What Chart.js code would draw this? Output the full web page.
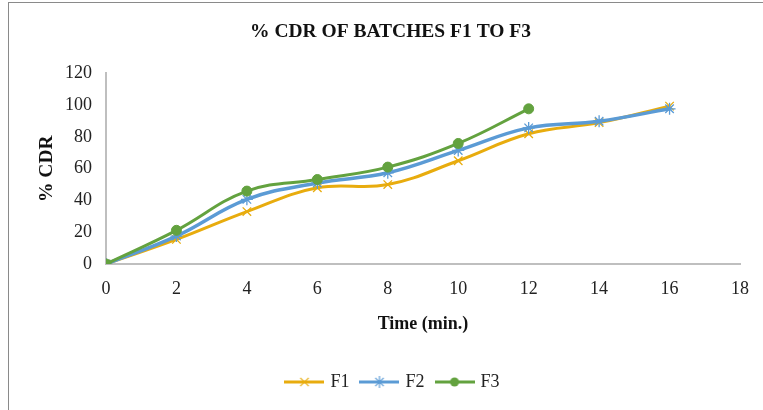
<!DOCTYPE html>
<html>
<head>
<meta charset="utf-8">
<script src="https://cdn.jsdelivr.net/npm/chart.js@4.4.1/dist/chart.umd.min.js"></script>
<style>
  html, body { margin: 0; padding: 0; background: #fff; }
  #wrap { position: relative; width: 763px; height: 410px; overflow: hidden; }
  #frame { position: absolute; left: 8px; top: 2px; width: 900px; height: 600px;
           border-top: 1.5px solid #8a8a8a; border-left: 1.5px solid #8a8a8a; pointer-events: none; }
  canvas { position: absolute; left: 0; top: 0; }
</style>
</head>
<body>
<div id="wrap">
  <canvas id="c" width="763" height="410"></canvas>
  <div id="frame"></div>
</div>
<script>
const titleText = "% CDR OF BATCHES F1 TO F3";
const xTitle = "Time (min.)";
const yTitle = "% CDR";
const timeF1 = [0, 2, 4, 6, 8, 10, 12, 14, 16];
const timeF2 = [0, 2, 4, 6, 8, 10, 12, 14, 16];
const timeF3 = [0, 2, 4, 6, 8, 10, 12];
const cdrF1 = [0, 15.5, 33, 48, 50, 65, 82, 89, 99.4];
const cdrF2 = [0, 17.6, 40.7, 51, 57.4, 71.5, 85.7, 89.9, 97.7];
const cdrF3 = [0, 21.2, 45.9, 53.2, 61, 75.9, 97.7];
const seriesNames = ["F1", "F2", "F3"];
const xMin = 0, xMax = 18, xStep = 2;
const yMin = 0, yMax = 120, yStep = 20;

const colors = ["#E8AC0E", "#5B9BD5", "#63A23F"];
const pointStyles = ["crossRot", "star", "circle"];
const SERIF = "'Liberation Serif', 'Times New Roman', serif";

function toPts(xs, ys) { return xs.map((x, i) => ({ x: x, y: ys[i] })); }

function legendIcon(color, style) {
  const cv = document.createElement('canvas');
  cv.width = 40; cv.height = 14;
  const g = cv.getContext('2d');
  g.strokeStyle = color; g.lineWidth = 3;
  g.beginPath(); g.moveTo(0, 7); g.lineTo(40, 7); g.stroke();
  g.lineWidth = 1.2;
  if (style === 'circle') {
    g.fillStyle = color; g.beginPath(); g.arc(20, 7, 4.5, 0, Math.PI * 2); g.fill();
  } else {
    const r = 6;
    g.beginPath();
    g.moveTo(20 - r * 0.7, 7 - r * 0.7); g.lineTo(20 + r * 0.7, 7 + r * 0.7);
    g.moveTo(20 + r * 0.7, 7 - r * 0.7); g.lineTo(20 - r * 0.7, 7 + r * 0.7);
    if (style === 'star') { g.moveTo(20, 7 - r); g.lineTo(20, 7 + r); }
    g.stroke();
  }
  return cv;
}

const dsData = [toPts(timeF1, cdrF1), toPts(timeF2, cdrF2), toPts(timeF3, cdrF3)];
const datasets = seriesNames.map((n, i) => ({
  label: n,
  data: dsData[i],
  borderColor: colors[i],
  backgroundColor: colors[i],
  borderWidth: i === 1 ? 3.5 : 3,
  tension: 0.4,
  showLine: true,
  pointStyle: pointStyles[i],
  pointRadius: i === 2 ? 5 : 6,
  pointBorderWidth: i === 2 ? 1 : 1.3,
  pointBorderColor: colors[i],
  pointBackgroundColor: colors[i],
  order: 3 - i
}));

const shiftBlocks = {
  id: 'shiftBlocks',
  afterLayout(chart) {
    if (chart.legend) { chart.legend.left += 22; chart.legend.right += 22; }
    if (chart.titleBlock) { chart.titleBlock.left += 19; chart.titleBlock.right += 19; }
  }
};

new Chart(document.getElementById('c'), {
  type: 'scatter',
  data: { datasets: datasets },
  plugins: [shiftBlocks],
  options: {
    responsive: false,
    animation: false,
    layout: { padding: { left: 0, right: 20, top: 0, bottom: 9 } },
    plugins: {
      tooltip: { enabled: false },
      title: {
        display: true, text: titleText, color: '#111',
        font: { family: SERIF, size: 19.5, weight: 'bold' },
        padding: { top: 20, bottom: 30 }
      },
      legend: {
        position: 'bottom',
        labels: {
          font: { family: SERIF, size: 18 },
          color: '#222',
          usePointStyle: true,
          pointStyleWidth: 34,
          padding: 13,
          generateLabels: (chart) => chart.data.datasets.map((d, i) => ({
            text: d.label,
            pointStyle: legendIcon(colors[i], pointStyles[i]),
            fillStyle: colors[i], strokeStyle: colors[i], lineWidth: 0,
            datasetIndex: i, hidden: false, fontColor: '#222'
          }))
        }
      }
    },
    scales: {
      x: {
        type: 'linear', min: xMin, max: xMax,
        ticks: { stepSize: xStep, color: '#222', padding: 14, font: { family: SERIF, size: 18 } },
        grid: { display: false, drawTicks: false },
        border: { display: true, color: '#BFBFBF', width: 2 },
        title: { display: true, text: xTitle, color: '#111', font: { family: SERIF, size: 18, weight: 'bold' }, padding: { top: 6, bottom: 25 } },
        afterFit: (s) => { s.height = 96; }
      },
      y: {
        min: yMin, max: yMax,
        ticks: { stepSize: yStep, color: '#222', padding: 14, font: { family: SERIF, size: 18 } },
        grid: { display: false, drawTicks: false },
        border: { display: true, color: '#BFBFBF', width: 2 },
        title: { display: true, text: yTitle, color: '#111', font: { family: SERIF, size: 19.5, weight: 'bold' }, padding: { top: 35, bottom: 0 } },
        afterFit: (s) => { s.width = 106; }
      }
    }
  }
});
</script>
</body>
</html>
